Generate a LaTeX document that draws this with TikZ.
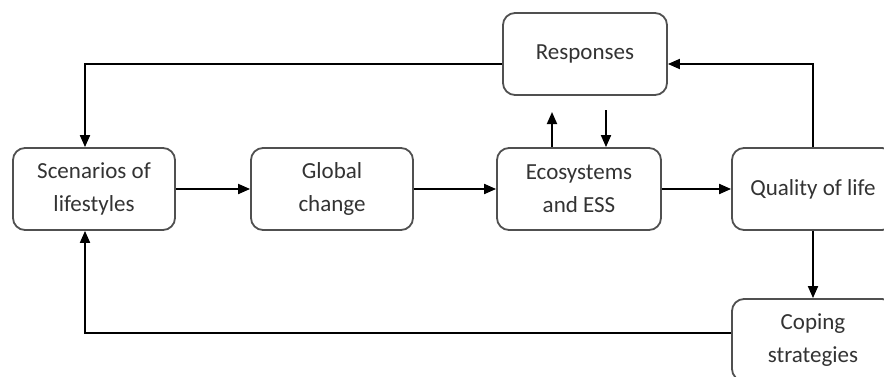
\documentclass[tikz,border=0pt]{standalone}
\usepackage{fontspec}
\setmainfont{Carlito}
\usetikzlibrary{arrows.meta}
\definecolor{boxline}{HTML}{505050}
\definecolor{boxtext}{HTML}{333333}
\begin{document}
\begin{tikzpicture}[x=1pt,y=1pt,
  stage/.style={draw=boxline, line width=1.8pt, rounded corners=12pt,
    minimum width=162pt, minimum height=82pt, align=center,
    text=boxtext, font=\fontsize{23}{33}\selectfont, fill=white},
  link/.style={line width=1.8pt, -{Triangle[length=12pt,width=10pt]}},
  plain/.style={line width=1.8pt}]
\useasboundingbox (0,0) rectangle (884,376);
\clip (0,0) rectangle (884,376);

% stage boxes
\node[stage] (scen) at (94,187) {Scenarios of\\lifestyles};
\node[stage] (glob) at (332,187) {Global\\change};
\node[stage, minimum width=164pt] (eco) at (579,187) {Ecosystems\\and ESS};
\node[stage] (qual) at (813,187) {Quality of life};
\node[stage, minimum width=164pt] (resp) at (585,322) {Responses};
\node[stage] (cope) at (813,36) {Coping\\strategies};

% free ends of the two short arrows between ecosystems and responses
\coordinate (upend) at ([xshift=-27pt]eco.north |- 0,264);
\coordinate (downstart) at ([xshift=27pt]eco.north |- 0,266);

% main chain
\draw[link] (scen.east) -- (glob.west);
\draw[link] (glob.east) -- (eco.west);
\draw[link] (eco.east) -- (qual.west);

% exchanges with responses
\draw[link] ([xshift=-27pt]eco.north) -- (upend);
\draw[link] (downstart) -- ([xshift=27pt]eco.north);
\draw[link] (qual.north) |- ([yshift=-10pt]resp.east);
\draw[link] ([yshift=-10pt]resp.west) -| ([xshift=-9pt]scen.north);

% coping loop
\draw[link] (qual.south) -- (cope.north);
\draw[link] ([yshift=7pt]cope.west) -| ([xshift=-9pt]scen.south);
\end{tikzpicture}
\end{document}
